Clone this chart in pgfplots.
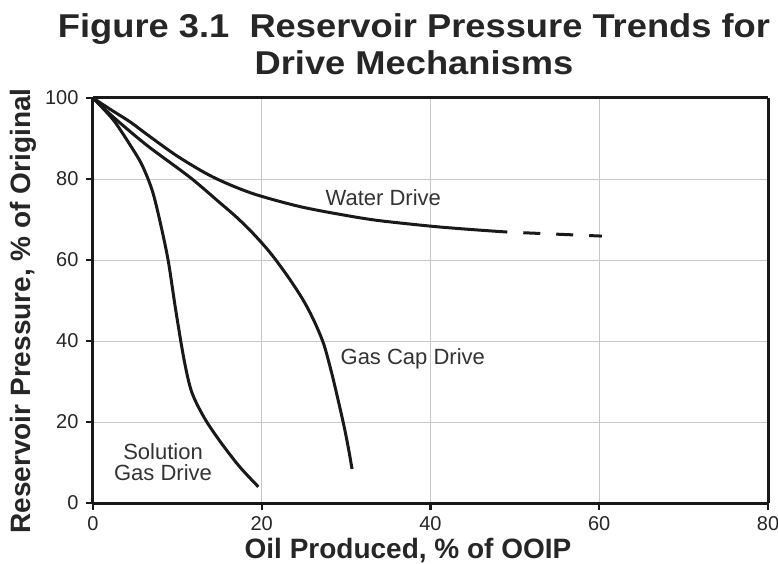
\documentclass[border=0pt]{standalone}
\usepackage{fontspec}
\setmainfont{Liberation Sans}
\usepackage{pgfplots}
\pgfplotsset{compat=1.18}
\definecolor{curve}{gray}{0.1}
\begin{document}
\begin{tikzpicture}
\begin{axis}[
  at={(0,0)}, anchor=south west,
  scale only axis, width=675bp, height=405bp,
  xmin=0, xmax=80, ymin=0, ymax=100,
  xtick={0,20,40,60,80}, ytick={0,20,40,60,80,100},
  tick pos=left, tick align=outside,
  major tick length=7bp,
  separate axis lines,
  every outer x axis line/.append style={line width=3bp, curve},
  every outer y axis line/.append style={line width=3bp, curve},
  every tick/.style={line width=2.4bp, curve},
  grid=major, major grid style={line width=0.9bp, color=black!22},
  ticklabel style={font=\fontsize{20bp}{20bp}\selectfont, text=black!85},
  yticklabel style={xshift=-4bp},
  xticklabel style={yshift=-3bp},
  /pgf/number format/assume math mode=true,
  clip=false,
]
% Water Drive (solid part)
\addplot[curve, line width=3bp, smooth] coordinates {
(0,100) (2.2,97) (4.4,94.1) (6.4,91) (10.1,85.5) (14.2,80.5) (18.8,76.5) (24.5,73.2) (30,71) (34,69.7) (40.3,68.3) (45,67.5) (49.1,66.9)
};
% Water Drive (dashed extrapolation)
\addplot[curve, line width=3bp, dash pattern=on 17bp off 16bp, dash phase=17bp] coordinates {
(49.1,66.9) (60.3,65.9)
};
% Gas Cap Drive
\addplot[curve, line width=3bp, smooth] coordinates {
(0,100) (2.4,95.3) (6.4,88.3) (11.5,80.4) (15,74.2) (17,70.6) (19,66.5) (21,61.8) (23,56.2) (24.5,51.5) (25.5,47.9) (26.5,43.6) (27.4,38.9) (28.3,32) (29.1,25) (29.8,18.5) (30.3,13.2) (30.7,8.4)
};
% Solution Gas Drive
\addplot[curve, line width=3bp, smooth] coordinates {
(0,100) (2.4,94.6) (4.4,88.4) (5.8,83.5) (7.0,77.3) (7.9,69.9) (8.9,60) (9.8,47.7) (10.8,35.3) (11.7,27.4) (13.2,21) (15.1,15.1) (17.4,8.9) (19.6,4)
};
\node[font=\fontsize{22bp}{22bp}\selectfont, text=black!80] at (axis cs:34.4,75.3) {Water Drive};
\node[font=\fontsize{22bp}{22bp}\selectfont, text=black!80] at (axis cs:37.9,35.6) {Gas Cap Drive};
\node[font=\fontsize{22bp}{21bp}\selectfont, text=black!80, align=center] at (axis cs:8.3,10.1) {Solution\\Gas Drive};
\end{axis}
\node[anchor=base, font=\fontsize{33bp}{37bp}\selectfont\bfseries, text=black!85] at (321bp,465bp) {\scalebox{1.1}[1]{Figure 3.1\ \ Reservoir Pressure Trends for}};
\node[anchor=base, font=\fontsize{33bp}{37bp}\selectfont\bfseries, text=black!85] at (321bp,428bp) {\scalebox{1.1}[1]{Drive Mechanisms}};
\node[rotate=90, font=\fontsize{28bp}{28bp}\selectfont\bfseries, text=black!85] at (-70bp,192bp) {Reservoir Pressure, \% of Original};
\node[anchor=base, font=\fontsize{28bp}{28bp}\selectfont\bfseries, text=black!85] at (315bp,-55bp) {Oil Produced, \% of OOIP};
\pgfresetboundingbox
\path[use as bounding box] (-93bp,-61bp) rectangle (685bp,503bp);
\end{tikzpicture}
\end{document}
